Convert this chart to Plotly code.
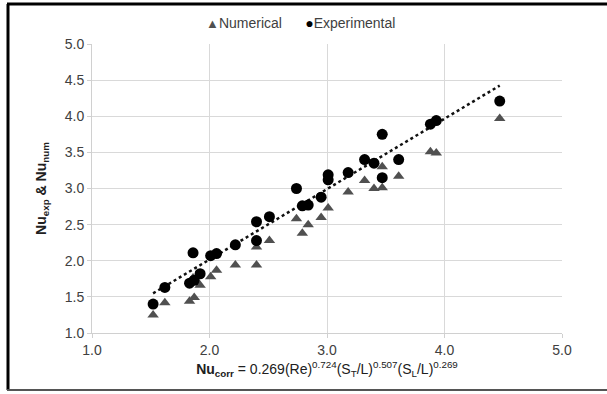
import numpy as np
import plotly.graph_objects as go

# Numerical (triangles)
num_x = [1.52, 1.62, 1.83, 1.86, 1.87, 1.92, 2.01, 2.06, 2.22, 2.40, 2.40, 2.51,
         2.74, 2.79, 2.84, 2.95, 3.01, 3.18, 3.32, 3.40, 3.47, 3.47, 3.61, 3.88, 3.93, 4.47]
num_y = [1.25, 1.42, 1.44, 1.76, 1.49, 1.66, 1.78, 1.87, 1.94, 1.94, 2.19, 2.28,
         2.58, 2.38, 2.50, 2.60, 2.73, 2.95, 3.11, 3.00, 3.30, 3.01, 3.17, 3.51, 3.49, 3.97]
# Experimental (circles)
exp_x = [1.52, 1.62, 1.83, 1.86, 1.87, 1.92, 2.01, 2.06, 2.22, 2.40, 2.40, 2.51,
         2.74, 2.79, 2.84, 2.95, 3.01, 3.01, 3.18, 3.32, 3.40, 3.47, 3.47, 3.61, 3.88, 3.93, 4.47]
exp_y = [1.40, 1.63, 1.69, 2.11, 1.73, 1.82, 2.07, 2.10, 2.22, 2.28, 2.54, 2.61,
         3.00, 2.76, 2.77, 2.88, 3.19, 3.12, 3.22, 3.40, 3.35, 3.75, 3.15, 3.40, 3.89, 3.94, 4.21]

x_ticks = [1.0, 2.0, 3.0, 4.0, 5.0]
y_ticks = [1.0, 1.5, 2.0, 2.5, 3.0, 3.5, 4.0, 4.5, 5.0]
series_names = ["Numerical", "Experimental"]

# Linear trendline of the experimental data
slope, icpt = np.polyfit(exp_x, exp_y, 1)
tx = np.array([min(exp_x), max(exp_x)])
ty = slope * tx + icpt

FONT = "Liberation Sans, Arial, sans-serif"
NUM_COLOR = "#505050"
EXP_COLOR = "#000000"

fig = go.Figure()
fig.add_trace(go.Scatter(x=tx, y=ty, mode="lines", showlegend=False,
                         line=dict(color="#111111", width=2.5, dash="dot"),
                         hoverinfo="skip"))
fig.add_trace(go.Scatter(x=num_x, y=num_y, mode="markers", name=series_names[0],
                         showlegend=False,
                         marker=dict(symbol="triangle-up", size=10, color=NUM_COLOR)))
fig.add_trace(go.Scatter(x=exp_x, y=exp_y, mode="markers", name=series_names[1],
                         showlegend=False,
                         marker=dict(symbol="circle", size=11, color=EXP_COLOR)))

L, R, T, B = 92, 45, 44, 61
W, H = 607, 394
pw, ph = W - L - R, H - T - B

def px(x):
    return (x - L) / pw

def py(y):
    return (H - B - y) / ph

legend_text = (f'<span style="color:{NUM_COLOR};font-size:13px">▲</span>{series_names[0]}'
               f'&nbsp;&nbsp;&nbsp;&nbsp;&nbsp;&nbsp;<span style="color:{EXP_COLOR};font-size:14px">●</span>{series_names[1]}')

fig.update_layout(
    width=W, height=H,
    margin=dict(l=L, r=R, t=T, b=B),
    paper_bgcolor="white", plot_bgcolor="white",
    font=dict(family=FONT, size=14, color="#404040"),
    showlegend=False,
    annotations=[dict(text=legend_text, xref="paper", yref="paper",
                      x=px(300), y=py(23), xanchor="center", yanchor="middle",
                      showarrow=False, font=dict(size=14, color="#404040"))],
    xaxis=dict(range=[1.0, 5.0], tickvals=x_ticks,
               ticktext=[f"{v:.1f}" for v in x_ticks],
               showgrid=True, gridcolor="#d9d9d9", gridwidth=1,
               zeroline=False, showline=True, linecolor="#d0d0d0",
               ticks="outside", ticklen=4, tickcolor="#d0d0d0",
               tickfont=dict(size=14, color="#404040"),
               title=dict(text="<b>Nu<sub>corr</sub></b> = 0.269(Re)<sup>0.724</sup>(S<sub>T</sub>/L)<sup>0.507</sup>(S<sub>L</sub>/L)<sup>0.269</sup>",
                          font=dict(size=14, color="#202020"), standoff=7)),
    yaxis=dict(range=[1.0, 5.0], tickvals=y_ticks,
               ticktext=[f"{v:.1f}" for v in y_ticks],
               showgrid=True, gridcolor="#d9d9d9", gridwidth=1,
               zeroline=False, showline=True, linecolor="#d0d0d0",
               ticks="outside", ticklen=4, tickcolor="#d0d0d0",
               tickfont=dict(size=14, color="#404040"),
               title=dict(text="<b>Nu<sub>exp</sub> & Nu<sub>num</sub></b>",
                          font=dict(size=14, color="#202020"), standoff=14)),
    shapes=[
        dict(type="line", xref="paper", yref="paper", x0=px(8), x1=px(8), y0=py(4), y1=py(390),
             line=dict(color="black", width=3)),
        dict(type="line", xref="paper", yref="paper", x0=px(7), x1=px(607), y0=py(4), y1=py(4),
             line=dict(color="black", width=3)),
        dict(type="line", xref="paper", yref="paper", x0=px(7), x1=px(607), y0=py(390), y1=py(390),
             line=dict(color="#555555", width=2)),
    ],
)

fig.write_html("out.html")
